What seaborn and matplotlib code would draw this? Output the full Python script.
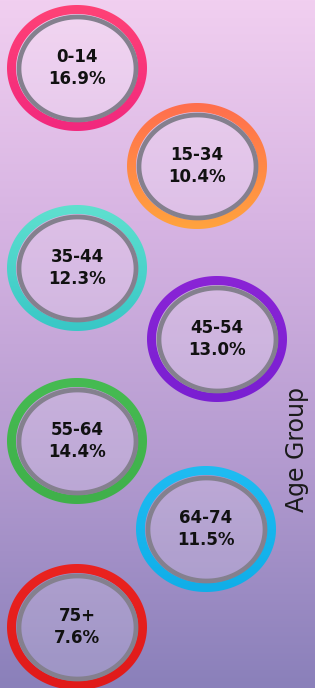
import numpy as np
import matplotlib
matplotlib.use("Agg")
import matplotlib.pyplot as plt
import matplotlib.colors as mcolors
from matplotlib.path import Path
from matplotlib.patches import PathPatch
import seaborn as sns

# data
age_groups = ["0-14", "15-34", "35-44", "45-54", "55-64", "64-74", "75+"]
shares = [16.9, 10.4, 12.3, 13.0, 14.4, 11.5, 7.6]
ring_top = ["#ff4276", "#ff6e4e", "#5fe0cf", "#8a24d6", "#46bb52", "#1fbcf2", "#ea2320"]
ring_bottom = ["#f2287e", "#ffa33e", "#38c7c6", "#7a1fd2", "#3fb04a", "#10aee8", "#e01a1a"]

# layout (pixel space of the 315x688 canvas)
pos_x = [77, 197, 77, 217, 77, 206, 77]
pos_y = [68, 166, 268, 339, 441, 529, 627]
W, H, T = 140, 126, 9

sns.set_theme(style="white")

fig = plt.figure(figsize=(3.15, 6.88), dpi=100)
ax = fig.add_axes([0, 0, 1, 1])
ax.set_xlim(0, 315)
ax.set_ylim(688, 0)
ax.axis("off")

# background gradient
bg = mcolors.LinearSegmentedColormap.from_list("bg", ["#f1cff0", "#d6b3e2", "#b49bd0", "#8a80ba"])
grad = np.linspace(0, 1, 256).reshape(-1, 1)
ax.imshow(grad, cmap=bg, extent=(0, 315, 688, 0), aspect="auto", zorder=0)


def ellipse_verts(cx, cy, w, h, n=200):
    t = np.linspace(0, 2 * np.pi, n)
    return np.column_stack([cx + w / 2 * np.cos(t), cy + h / 2 * np.sin(t)])


for i, grp in enumerate(age_groups):
    cx, cy = pos_x[i], pos_y[i]
    outer = ellipse_verts(cx, cy, W, H)
    inner = ellipse_verts(cx, cy, W - 2 * T, H - 2 * T)[::-1]
    verts = np.vstack([outer, inner])
    codes = np.full(len(verts), Path.LINETO)
    codes[0] = Path.MOVETO
    codes[len(outer)] = Path.MOVETO
    ring = PathPatch(Path(verts, codes), facecolor="none", edgecolor="none")
    ax.add_patch(ring)
    cmap = mcolors.LinearSegmentedColormap.from_list(f"r{i}", [ring_top[i], ring_bottom[i]])
    im = ax.imshow(grad, cmap=cmap, extent=(cx - W / 2, cx + W / 2, cy + H / 2, cy - H / 2),
                   aspect="auto", zorder=2)
    im.set_clip_path(ring)

# gray inner rings with light centre, drawn as elliptical markers
gw = W - 2 * T - 5
gh = H - 2 * T - 5
t = np.linspace(0, 2 * np.pi, 120)
ell_marker = Path(np.column_stack([0.5 * np.cos(t), 0.5 * gh / gw * np.sin(t)]), closed=True)
sns.scatterplot(x=pos_x, y=pos_y, marker=ell_marker, s=(gw * 0.72) ** 2,
                color=(1, 1, 1, 0.16), edgecolor="#84808e", linewidth=3.4,
                legend=False, ax=ax, zorder=3)

for i, grp in enumerate(age_groups):
    ax.text(pos_x[i], pos_y[i] - 11, grp, ha="center", va="center", fontsize=12,
            fontweight="bold", family="DejaVu Sans", color="#111111", zorder=4)
    ax.text(pos_x[i], pos_y[i] + 11, f"{shares[i]:.1f}%", ha="center", va="center", fontsize=12,
            fontweight="bold", family="DejaVu Sans", color="#111111", zorder=4)

ax.text(297, 450, "Age Group", rotation=90, ha="center", va="center", fontsize=17,
        family="DejaVu Sans", color="#1a1a1a", zorder=4)

fig.savefig("out.png", dpi=100)
